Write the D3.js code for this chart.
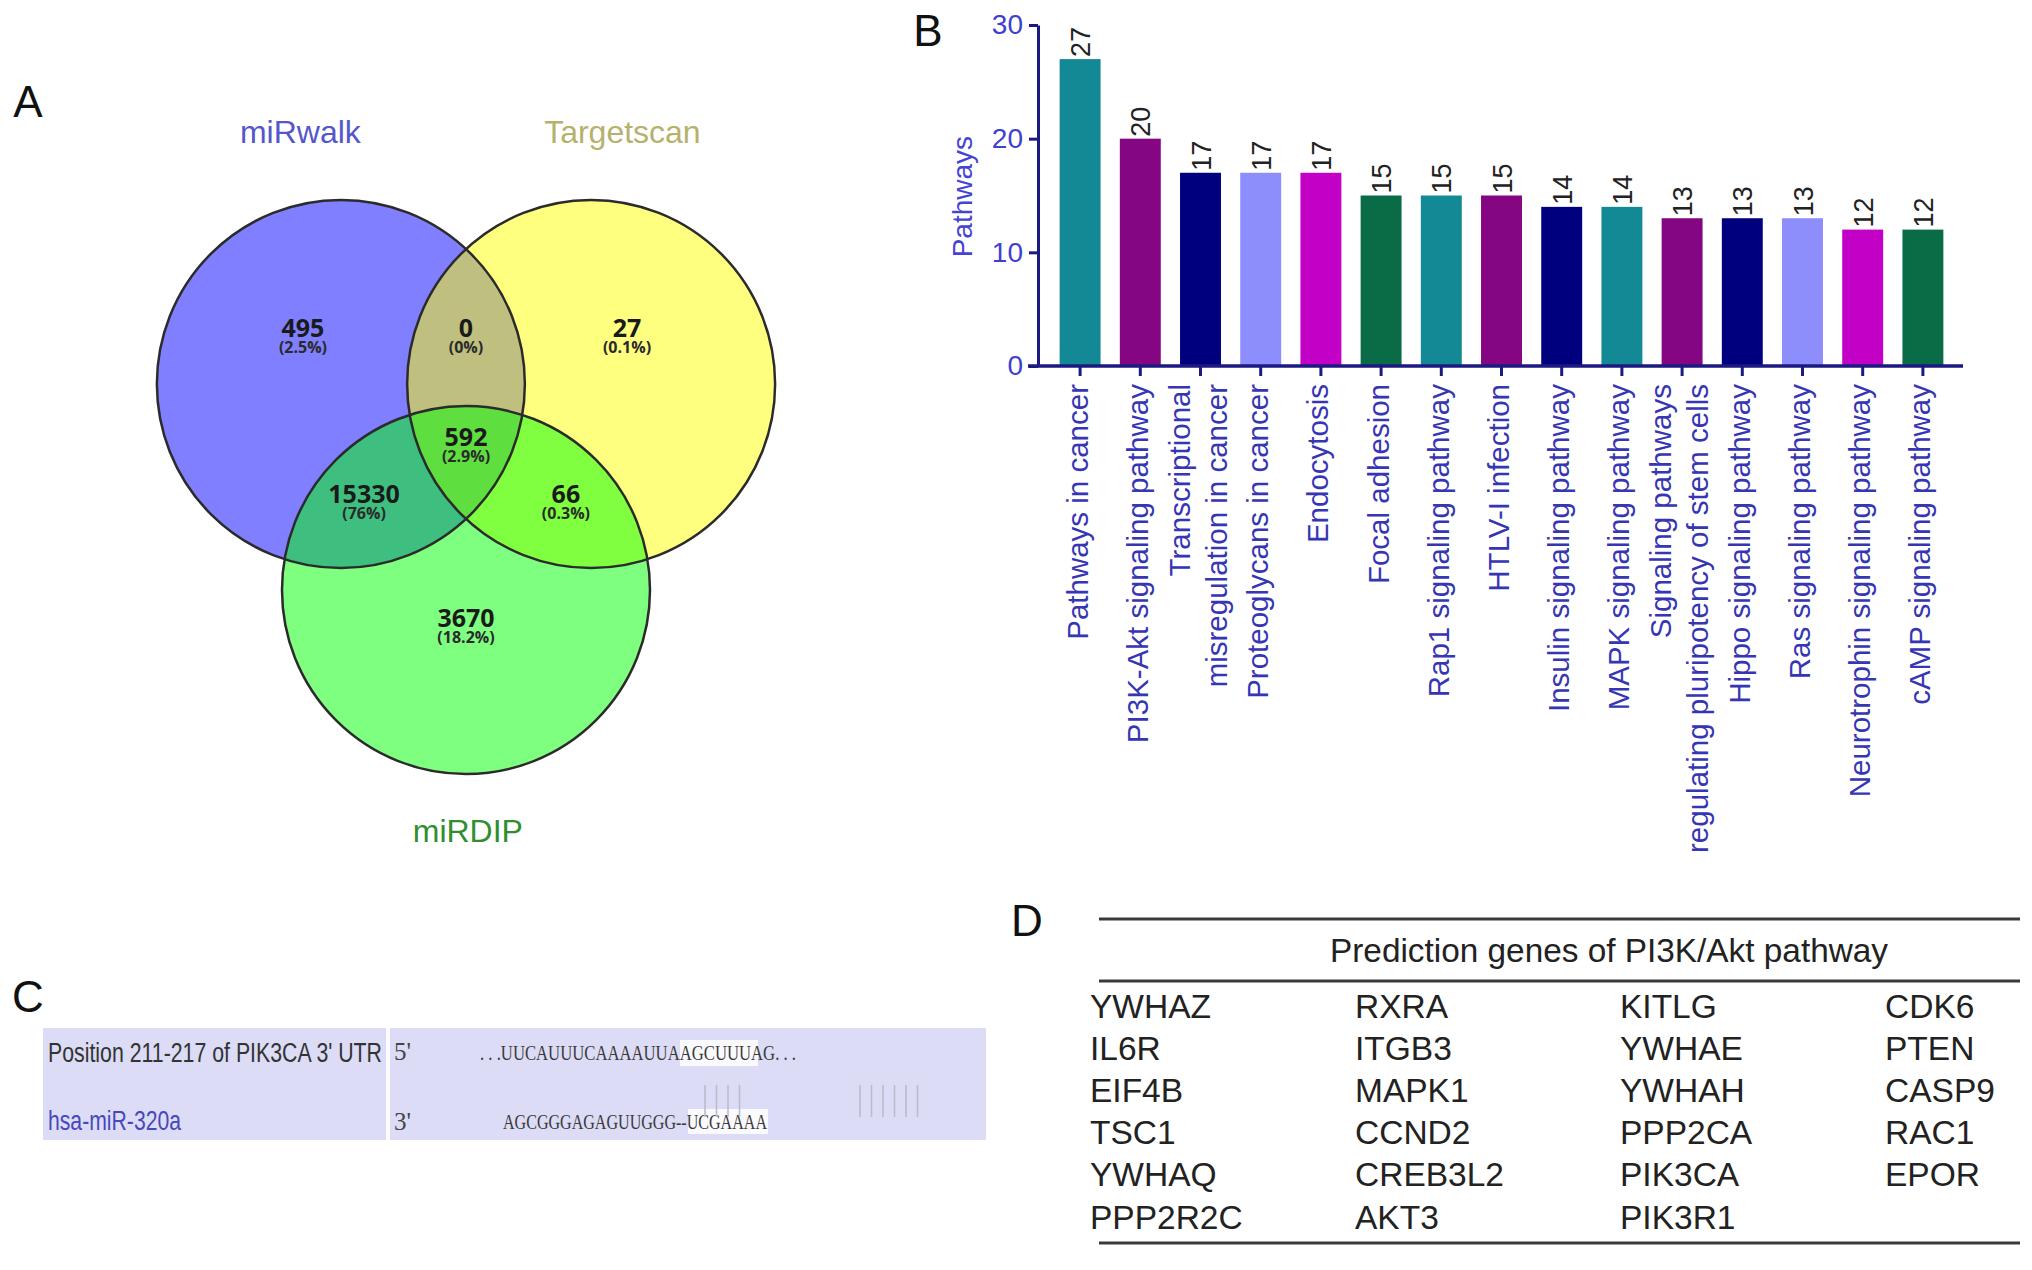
<!DOCTYPE html>
<html>
<head>
<meta charset="utf-8">
<script src="https://cdn.jsdelivr.net/npm/d3@7"></script>
<style>
  body { margin: 0; background: #fff; }
  svg { display: block; }
</style>
</head>
<body>
<svg id="fig"></svg>
<script>
// panel A - venn
const vennSets = ["miRwalk", "Targetscan", "miRDIP"];
const vennSetColors = ["#0000ff", "#ffff00", "#00ff00"];
const vennLabelColors = ["#5656cc", "#b6b16c", "#2f8f2f"];
const vennCounts = [495, 0, 27, 15330, 592, 66, 3670];
const vennPercents = ["2.5%", "0%", "0.1%", "76%", "2.9%", "0.3%", "18.2%"];

// panel B - KEGG pathways
const pathways = [
  "Pathways in cancer",
  "PI3K-Akt signaling pathway",
  "Transcriptional\nmisregulation in cancer",
  "Proteoglycans in cancer",
  "Endocytosis",
  "Focal adhesion",
  "Rap1 signaling pathway",
  "HTLV-I infection",
  "Insulin signaling pathway",
  "MAPK signaling pathway",
  "Signaling pathways\nregulating pluripotency of stem cells",
  "Hippo signaling pathway",
  "Ras signaling pathway",
  "Neurotrophin signaling pathway",
  "cAMP signaling pathway"
];
const pathwayCounts = [27, 20, 17, 17, 17, 15, 15, 15, 14, 14, 13, 13, 13, 12, 12];
const barColors = ["#128995", "#840682", "#00007f", "#8d8dfb", "#c300c6", "#0a6b47",
                   "#128995", "#840682", "#00007f", "#128995", "#840682", "#00007f",
                   "#8d8dfb", "#c300c6", "#0a6b47"];
const yTicks = [0, 10, 20, 30];

// panel C - binding site
const utrLabel = "Position 211-217 of PIK3CA 3' UTR";
const mirLabel = "hsa-miR-320a";
const utrSeq = ". . .UUCAUUUCAAAAUUAAGCUUUAG. . .";
const mirSeq = "AGCGGGAGAGUUGGG--UCGAAAA";
const pairGroups = [4, 6];

// panel D - gene table
const tableTitle = "Prediction genes of PI3K/Akt pathway";
const geneCols = [
  ["YWHAZ", "IL6R", "EIF4B", "TSC1", "YWHAQ", "PPP2R2C"],
  ["RXRA", "ITGB3", "MAPK1", "CCND2", "CREB3L2", "AKT3"],
  ["KITLG", "YWHAE", "YWHAH", "PPP2CA", "PIK3CA", "PIK3R1"],
  ["CDK6", "PTEN", "CASP9", "RAC1", "EPOR"]
];

const W = 2032, H = 1270;
const sans = "'Liberation Sans', Arial, Helvetica, sans-serif";

const svg = d3.select("#fig")
  .attr("width", W)
  .attr("height", H)
  .style("font-family", sans);

svg.append("rect").attr("width", W).attr("height", H).attr("fill", "#fff");

// panel letters
[["A", 28, 101], ["B", 928, 30], ["C", 28, 996], ["D", 1027, 920]].forEach(([t, x, y]) => {
  svg.append("text")
    .attr("x", x).attr("y", y)
    .attr("text-anchor", "middle")
    .attr("dominant-baseline", "central")
    .attr("font-size", 44)
    .attr("fill", "#111")
    .text(t);
});

// ---------- A: venn ----------
const vx = d3.scaleLinear().domain([0, 1]).range([466, 650]);
const vy = d3.scaleLinear().domain([0, 1]).range([384, 568]);
const vr = vx(1) - vx(0);
const circles = [[-0.68, 0], [0.68, 0], [0, 1.12]];
const regionPos = [[-0.886, -0.304], [0, -0.304], [0.875, -0.304], [-0.554, 0.6], [0, 0.288], [0.543, 0.6], [0, 1.27]];
const setLabelPos = [[-0.9, -1.37], [0.85, -1.37], [0.01, 2.43]];

const venn = svg.append("g");
venn.selectAll("circle.fill")
  .data(circles)
  .join("circle")
  .attr("class", "fill")
  .attr("cx", d => vx(d[0]))
  .attr("cy", d => vy(d[1]))
  .attr("r", vr)
  .attr("fill", (d, i) => vennSetColors[i])
  .attr("fill-opacity", 0.5);

venn.selectAll("circle.edge")
  .data(circles)
  .join("circle")
  .attr("class", "edge")
  .attr("cx", d => vx(d[0]))
  .attr("cy", d => vy(d[1]))
  .attr("r", vr)
  .attr("fill", "none")
  .attr("stroke", "#2b2b2b")
  .attr("stroke-width", 2.5);

venn.selectAll("text.count")
  .data(vennCounts)
  .join("text")
  .attr("class", "count")
  .attr("x", (d, i) => vx(regionPos[i][0]))
  .attr("y", (d, i) => vy(regionPos[i][1]) - 1)
  .attr("text-anchor", "middle")
  .attr("dominant-baseline", "central")
  .attr("font-family", "'Open Sans', 'DejaVu Sans', sans-serif")
  .attr("font-weight", "bold")
  .attr("font-size", 25)
  .attr("fill", "#1a1a1a")
  .text(d => d);

venn.selectAll("text.pct")
  .data(vennPercents)
  .join("text")
  .attr("class", "pct")
  .attr("x", (d, i) => vx(regionPos[i][0]))
  .attr("y", (d, i) => vy(regionPos[i][1]) + 19)
  .attr("text-anchor", "middle")
  .attr("dominant-baseline", "central")
  .attr("font-family", "'Open Sans', 'DejaVu Sans', sans-serif")
  .attr("font-weight", "bold")
  .attr("font-size", 16)
  .attr("fill", "#2a2a2a")
  .text(d => `(${d})`);

venn.selectAll("text.set")
  .data(vennSets)
  .join("text")
  .attr("class", "set")
  .attr("x", (d, i) => vx(setLabelPos[i][0]))
  .attr("y", (d, i) => vy(setLabelPos[i][1]))
  .attr("text-anchor", "middle")
  .attr("dominant-baseline", "central")
  .attr("font-size", 32)
  .attr("fill", (d, i) => vennLabelColors[i])
  .text(d => d);

// ---------- B: bar chart ----------
const bx = d3.scaleBand()
  .domain(pathways)
  .range([1050, 1953])
  .paddingInner(0.32)
  .paddingOuter(0.16);

const by = d3.scaleLinear().domain([0, 30]).range([366, 25]);

const axisColor = "#1c1a82";
const labelBlue = "#3636b4";

const bars = svg.append("g");
bars.selectAll("rect")
  .data(pathwayCounts)
  .join("rect")
  .attr("x", (d, i) => bx(pathways[i]))
  .attr("y", d => by(d))
  .attr("width", bx.bandwidth())
  .attr("height", d => by(0) - by(d))
  .attr("fill", (d, i) => barColors[i]);

bars.selectAll("text")
  .data(pathwayCounts)
  .join("text")
  .attr("transform", (d, i) => `translate(${bx(pathways[i]) + bx.bandwidth() / 2 + 1},${by(d) - 2}) rotate(-90)`)
  .attr("dominant-baseline", "central")
  .attr("font-size", 27)
  .attr("fill", "#222")
  .text(d => d);

const yAxis = svg.append("g")
  .attr("transform", "translate(1038,0)")
  .call(d3.axisLeft(by).tickValues(yTicks).tickSize(9).tickSizeOuter(0).tickPadding(6));
yAxis.select(".domain").attr("stroke", axisColor).attr("stroke-width", 3);
yAxis.selectAll(".tick line").attr("stroke", axisColor).attr("stroke-width", 3);
yAxis.selectAll(".tick text")
  .attr("font-size", 28)
  .attr("font-family", sans)
  .attr("fill", "#4040d0");

const xAxis = svg.append("g")
  .attr("transform", `translate(0,${by(0)})`)
  .call(d3.axisBottom(bx).tickSize(10).tickSizeOuter(0).tickFormat(""));
xAxis.select(".domain")
  .attr("d", "M1028,0H1963")
  .attr("stroke", axisColor)
  .attr("stroke-width", 3.5);
xAxis.selectAll(".tick line").attr("stroke", axisColor).attr("stroke-width", 3);

pathways.forEach(p => {
  const lines = p.split("\n");
  const cx = bx(p) + bx.bandwidth() / 2;
  lines.forEach((ln, i) => {
    const off = (i - (lines.length - 1) / 2) * 37;
    svg.append("text")
      .attr("transform", `translate(${cx + off - 3},${by(0) + 18}) rotate(-90)`)
      .attr("text-anchor", "end")
      .attr("dominant-baseline", "central")
      .attr("font-size", 29.5)
      .attr("fill", labelBlue)
      .text(ln);
  });
});

svg.append("text")
  .attr("transform", `translate(962,${by(14.9)}) rotate(-90)`)
  .attr("text-anchor", "middle")
  .attr("dominant-baseline", "central")
  .attr("font-size", 28)
  .attr("fill", "#4444d4")
  .text("Pathways");

// ---------- C: binding site ----------
const cg = svg.append("g");
cg.append("rect").attr("x", 43).attr("y", 1028).attr("width", 943).attr("height", 112).attr("fill", "#dcdcf6");
cg.append("line").attr("x1", 388).attr("x2", 388).attr("y1", 1028).attr("y2", 1140)
  .attr("stroke", "#fbfbff").attr("stroke-width", 4);

// highlighted seed match
cg.append("rect").attr("x", 680).attr("y", 1040).attr("width", 78).attr("height", 26).attr("fill", "#fdfdff").attr("opacity", 0.9);
cg.append("rect").attr("x", 688).attr("y", 1109).attr("width", 80).attr("height", 25).attr("fill", "#fdfdff").attr("opacity", 0.9);

cg.append("text")
  .attr("x", 48).attr("y", 1053)
  .attr("dominant-baseline", "central")
  .attr("font-size", 27)
  .attr("textLength", 334).attr("lengthAdjust", "spacingAndGlyphs")
  .attr("fill", "#333")
  .text(utrLabel);

cg.append("text")
  .attr("x", 48).attr("y", 1121)
  .attr("dominant-baseline", "central")
  .attr("font-size", 27)
  .attr("textLength", 133).attr("lengthAdjust", "spacingAndGlyphs")
  .attr("fill", "#4848ba")
  .text(mirLabel);

const serif = "'Liberation Serif', 'Times New Roman', serif";
[["5'", 1051], ["3'", 1121]].forEach(([t, y]) => {
  cg.append("text")
    .attr("x", 394).attr("y", y)
    .attr("dominant-baseline", "central")
    .attr("font-family", serif)
    .attr("font-size", 25)
    .attr("fill", "#444")
    .text(t);
});

cg.append("text")
  .attr("x", 480).attr("y", 1052)
  .attr("dominant-baseline", "central")
  .attr("font-family", serif)
  .attr("font-size", 22)
  .attr("textLength", 316).attr("lengthAdjust", "spacingAndGlyphs")
  .attr("fill", "#3a3a3a")
  .text(utrSeq);

cg.append("text")
  .attr("x", 503).attr("y", 1121)
  .attr("dominant-baseline", "central")
  .attr("font-family", serif)
  .attr("font-size", 22)
  .attr("textLength", 264).attr("lengthAdjust", "spacingAndGlyphs")
  .attr("fill", "#3a3a3a")
  .text(mirSeq);

const pairStart = [705, 860];
pairGroups.forEach((n, g) => {
  d3.range(n).forEach(k => {
    cg.append("line")
      .attr("x1", pairStart[g] + k * 11.5).attr("x2", pairStart[g] + k * 11.5)
      .attr("y1", 1085).attr("y2", 1117)
      .attr("stroke", "#bcbccc").attr("stroke-width", 1.6);
  });
});

// ---------- D: table ----------
const tg = svg.append("g");
[919, 981, 1243].forEach(y => {
  tg.append("line")
    .attr("x1", 1099).attr("x2", 2020).attr("y1", y).attr("y2", y)
    .attr("stroke", "#3a3a3a").attr("stroke-width", 3);
});
tg.append("text")
  .attr("x", 1609).attr("y", 950)
  .attr("text-anchor", "middle")
  .attr("dominant-baseline", "central")
  .attr("font-size", 33)
  .attr("textLength", 558).attr("lengthAdjust", "spacingAndGlyphs")
  .attr("fill", "#222")
  .text(tableTitle);

const colX = d3.scalePoint().domain(d3.range(geneCols.length)).range([1090, 1885]);
const rowY = d3.scalePoint().domain(d3.range(6)).range([1006, 1217]);
geneCols.forEach((col, ci) => {
  tg.selectAll(null)
    .data(col)
    .join("text")
    .attr("x", colX(ci))
    .attr("y", (d, ri) => rowY(ri))
    .attr("dominant-baseline", "central")
    .attr("font-size", 33.5)
    .attr("fill", "#222")
    .text(d => d);
});
</script>
</body>
</html>
